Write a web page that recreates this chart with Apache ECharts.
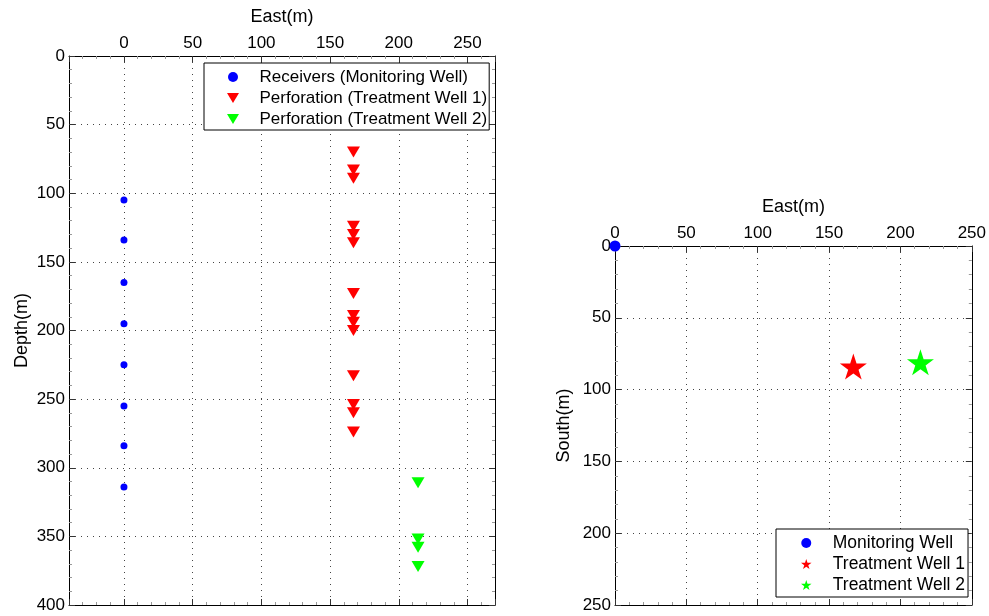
<!DOCTYPE html>
<html>
<head>
<meta charset="utf-8">
<title>Well geometry</title>
<script src="https://cdn.jsdelivr.net/npm/echarts@6/dist/echarts.min.js"></script>
<style>
  html, body { margin: 0; padding: 0; background: #fff; }
  #chart { width: 989px; height: 616px; }
</style>
</head>
<body>
<div id="chart"></div>
<script>
// Receiver depths in the monitoring well (m)
const receiverDepth = [105, 134, 165, 195, 225, 255, 284, 314];
// Perforation depths, treatment well 1 (m)
const perf1Depth = [70, 83, 89, 124, 130, 136, 173, 189, 194, 200, 233, 254, 260, 274];
// Perforation depths, treatment well 2 (m)
const perf2Depth = [311, 352, 358, 372];

// Well-head positions in plan view: monitoring, treatment 1, treatment 2
const wellNames = ['Monitoring Well', 'Treatment Well 1', 'Treatment Well 2'];
const wellEast = [0, 167, 214];
const wellSouth = [0, 84, 81];

// Axis ranges and label steps
const sectionEastRange = [-40, 270];
const sectionDepthRange = [0, 400];
const planEastRange = [0, 250];
const planSouthRange = [0, 250];
const tickStep = 50;

const FONT = '"Liberation Sans", Arial, Helvetica, sans-serif';
const TRI_DOWN = 'path://M0,0L12,0L6,10Z';
const STAR = 'path://M50,0L61.2,34.5L97.6,34.5L68.2,55.9L79.4,90.5L50,69.1L20.6,90.5L31.8,55.9L2.4,34.5L38.8,34.5Z';
const BLUE = '#0000ff', RED = '#ff0000', GREEN = '#00ff00';

const chart = echarts.init(document.getElementById('chart'), null, { renderer: 'canvas' });

function stepLabel(v) {
  return Math.abs(v % tickStep) < 1e-6 ? String(v) : '';
}

function mainAxis(gridIndex, position, range, name, nameGap, inverse) {
  return {
    type: 'value',
    gridIndex: gridIndex,
    position: position,
    min: range[0],
    max: range[1],
    minInterval: tickStep,
    maxInterval: tickStep,
    inverse: !!inverse,
    name: name,
    nameLocation: 'middle',
    nameGap: nameGap,
    nameTextStyle: { fontFamily: FONT, fontSize: 18, color: '#000' },
    axisLine: { show: true, onZero: false, lineStyle: { color: '#000', width: 1 } },
    axisTick: { show: true, inside: true, length: 6, lineStyle: { color: '#333' } },
    minorTick: { show: true, splitNumber: 5, length: 3, lineStyle: { color: '#999' } },
    axisLabel: {
      show: true, margin: 4, fontFamily: FONT, fontSize: 17, color: '#000',
      formatter: stepLabel, showMinLabel: true, showMaxLabel: true
    },
    splitLine: { show: true, lineStyle: { color: '#444', width: 1, type: [1, 5] } }
  };
}

function mirrorAxis(gridIndex, position, range, inverse) {
  return {
    type: 'value',
    gridIndex: gridIndex,
    position: position,
    min: range[0],
    max: range[1],
    minInterval: tickStep,
    maxInterval: tickStep,
    inverse: !!inverse,
    axisLine: { show: true, onZero: false, lineStyle: { color: '#000', width: 1 } },
    axisTick: { show: true, inside: true, length: 6, lineStyle: { color: '#333' } },
    minorTick: { show: true, splitNumber: 5, length: 3, lineStyle: { color: '#999' } },
    axisLabel: { show: false },
    splitLine: { show: false }
  };
}

const sectionName = ['Receivers (Monitoring Well)', 'Perforation (Treatment Well 1)', 'Perforation (Treatment Well 2)'];

function solid(color) {
  return { color: color, opacity: 1 };
}

const option = {
  backgroundColor: '#fff',
  animation: false,
  textStyle: { fontFamily: FONT },
  grid: [
    { left: 69, top: 56, width: 426, height: 549, show: false, containLabel: false },
    { left: 615, top: 246, width: 360, height: 359, show: false, containLabel: false }
  ],
  xAxis: [
    mainAxis(0, 'top', sectionEastRange, 'East(m)', 30),
    mirrorAxis(0, 'bottom', sectionEastRange),
    mainAxis(1, 'top', planEastRange, 'East(m)', 30),
    mirrorAxis(1, 'bottom', planEastRange)
  ],
  yAxis: [
    mainAxis(0, 'left', sectionDepthRange, 'Depth(m)', 38, true),
    mirrorAxis(0, 'right', sectionDepthRange, true),
    mainAxis(1, 'left', planSouthRange, 'South(m)', 42, true),
    mirrorAxis(1, 'right', planSouthRange, true)
  ],
  legend: [
    {
      left: 204, top: 63, orient: 'vertical', selectedMode: false,
      backgroundColor: '#fff', borderColor: '#000', borderWidth: 1, borderRadius: 0,
      padding: [4, 2, 1, 23], itemWidth: 43, itemHeight: 10, itemGap: 1,
      textStyle: { fontFamily: FONT, fontSize: 17, lineHeight: 20, color: '#000' },
      data: [
        { name: sectionName[0], icon: 'circle', itemStyle: solid(BLUE) },
        { name: sectionName[1], icon: TRI_DOWN, itemStyle: solid(RED) },
        { name: sectionName[2], icon: TRI_DOWN, itemStyle: solid(GREEN) }
      ]
    },
    {
      left: 776, top: 529, orient: 'vertical', selectedMode: false,
      backgroundColor: '#fff', borderColor: '#000', borderWidth: 1, borderRadius: 0,
      padding: [4, 3, 2, 25], itemWidth: 43, itemHeight: 10, itemGap: 1,
      textStyle: { fontFamily: FONT, fontSize: 17.5, lineHeight: 20, color: '#000' },
      data: [
        { name: wellNames[0], icon: 'circle', itemStyle: solid(BLUE) },
        { name: wellNames[1], icon: STAR, itemStyle: solid(RED) },
        { name: wellNames[2], icon: STAR, itemStyle: solid(GREEN) }
      ]
    }
  ],
  series: [
    {
      name: sectionName[0], type: 'scatter', xAxisIndex: 0, yAxisIndex: 0,
      symbol: 'circle', symbolSize: 7, itemStyle: solid(BLUE),
      data: receiverDepth.map(d => [wellEast[0], d]), clip: false
    },
    {
      name: sectionName[1], type: 'scatter', xAxisIndex: 0, yAxisIndex: 0,
      symbol: TRI_DOWN, symbolSize: [13, 11], itemStyle: solid(RED),
      data: perf1Depth.map(d => [wellEast[1], d]), clip: false
    },
    {
      name: sectionName[2], type: 'scatter', xAxisIndex: 0, yAxisIndex: 0,
      symbol: TRI_DOWN, symbolSize: [13, 11], itemStyle: solid(GREEN),
      data: perf2Depth.map(d => [wellEast[2], d]), clip: false
    },
    {
      name: wellNames[0], type: 'scatter', xAxisIndex: 2, yAxisIndex: 2,
      symbol: 'circle', symbolSize: 11, itemStyle: solid(BLUE),
      data: [[wellEast[0], wellSouth[0]]], clip: false, z: 5
    },
    {
      name: wellNames[1], type: 'scatter', xAxisIndex: 2, yAxisIndex: 2,
      symbol: STAR, symbolSize: [27, 26], itemStyle: solid(RED),
      data: [[wellEast[1], wellSouth[1]]], clip: false
    },
    {
      name: wellNames[2], type: 'scatter', xAxisIndex: 2, yAxisIndex: 2,
      symbol: STAR, symbolSize: [27, 26], itemStyle: solid(GREEN),
      data: [[wellEast[2], wellSouth[2]]], clip: false
    }
  ]
};

chart.setOption(option);
</script>
</body>
</html>
